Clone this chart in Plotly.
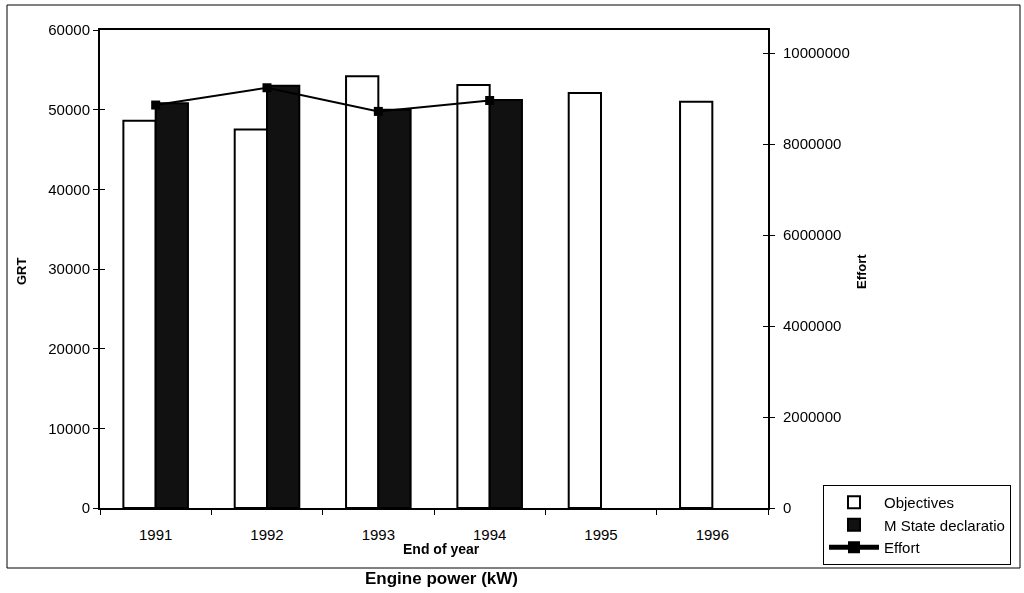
import plotly.graph_objects as go

years = ["1991", "1992", "1993", "1994", "1995", "1996"]
objectives = [48600, 47500, 54200, 53100, 52100, 51000]
m_state = [50800, 53000, 50000, 51200, None, None]
effort = [8860000, 9240000, 8720000, 8960000, None, None]

FONT = "Liberation Sans, Arial, sans-serif"
W, H = 1024, 593
# plot area in screen pixels
L, R, T, B = 100, 768, 30, 508
pw, ph = R - L, B - T
GRT_RANGE = [0, 60000]
EFF_RANGE = [0, 10510000]

def px(x):
    return (x - L) / pw

def py(y):
    return (B - y) / ph

fig = go.Figure()
fig.add_trace(go.Bar(
    x=years, y=objectives, name="Objectives",
    marker=dict(color="white", line=dict(color="black", width=2)),
))
fig.add_trace(go.Bar(
    x=years, y=m_state, name="M State declaratio",
    marker=dict(color="#111111", line=dict(color="black", width=2)),
))
fig.add_trace(go.Scatter(
    x=years[:4], y=effort[:4], name="Effort", yaxis="y2",
    mode="lines+markers",
    line=dict(color="black", width=2),
    marker=dict(symbol="square", size=9, color="black"),
))
# invisible carriers so the inner tick axes (crossing ticks) get drawn
fig.add_trace(go.Scatter(x=years, y=objectives, yaxis="y3", mode="markers",
                         opacity=0, showlegend=False, hoverinfo="skip"))
fig.add_trace(go.Scatter(x=years[:4], y=effort[:4], yaxis="y4", mode="markers",
                         opacity=0, showlegend=False, hoverinfo="skip"))

axis_common = dict(showgrid=False, zeroline=False, tickcolor="black", ticklen=5)

fig.update_layout(
    width=W, height=H,
    margin=dict(l=L, r=W - R, t=T, b=H - B, pad=0),
    paper_bgcolor="white", plot_bgcolor="white",
    barmode="group", bargap=0.42, bargroupgap=0,
    font=dict(family=FONT, size=15, color="black"),
    showlegend=True,
    legend=dict(
        x=px(823), y=py(485), xanchor="left", yanchor="top",
        bordercolor="black", borderwidth=1, bgcolor="white",
        font=dict(family=FONT, size=15, color="black"),
        tracegroupgap=0, itemsizing="constant", itemwidth=50,
    ),
    xaxis=dict(
        type="category", showline=True, linecolor="black", linewidth=2,
        mirror=True, ticks="outside", tickson="boundaries",
        ticklabelstandoff=12, tickfont=dict(family=FONT, size=15),
        **axis_common,
    ),
    yaxis=dict(
        range=GRT_RANGE, dtick=10000, tickformat="d",
        showline=True, linecolor="black", linewidth=2, ticks="outside",
        tickfont=dict(family=FONT, size=15), **axis_common,
    ),
    yaxis2=dict(
        overlaying="y", side="right", range=EFF_RANGE, dtick=2000000,
        tickformat="d", showline=True, linecolor="black", linewidth=2,
        ticks="outside", ticklabelstandoff=5,
        tickfont=dict(family=FONT, size=15), **axis_common,
    ),
    yaxis3=dict(
        overlaying="y", side="left", range=GRT_RANGE, dtick=10000,
        ticks="inside", showticklabels=False, showline=False, **axis_common,
    ),
    yaxis4=dict(
        overlaying="y", side="right", range=EFF_RANGE, dtick=2000000,
        ticks="inside", showticklabels=False, showline=False, **axis_common,
    ),
    shapes=[dict(
        type="rect", xref="paper", yref="paper",
        x0=px(7), x1=px(1020), y0=py(568), y1=py(5),
        line=dict(color="black", width=1), layer="below",
    )],
    annotations=[
        dict(text="<b>GRT</b>", x=px(21), y=py(271), xref="paper", yref="paper",
             xanchor="center", yanchor="middle",
             textangle=-90, showarrow=False, font=dict(family=FONT, size=13)),
        dict(text="<b>Effort</b>", x=px(861), y=py(272), xref="paper", yref="paper",
             xanchor="center", yanchor="middle",
             textangle=-90, showarrow=False, font=dict(family=FONT, size=13)),
        dict(text="<b>End of year</b>", x=px(441), y=py(549), xref="paper", yref="paper",
             xanchor="center", yanchor="middle",
             showarrow=False, font=dict(family=FONT, size=14)),
        dict(text="<b>Engine power (kW)</b>", x=px(441), y=py(578), xref="paper", yref="paper",
             xanchor="center", yanchor="middle",
             showarrow=False, font=dict(family=FONT, size=17)),
    ],
)

fig.write_html(
    "out.html",
    config={"displayModeBar": False},
    post_script="document.body.style.margin='0';document.body.style.overflow='hidden';",
)
